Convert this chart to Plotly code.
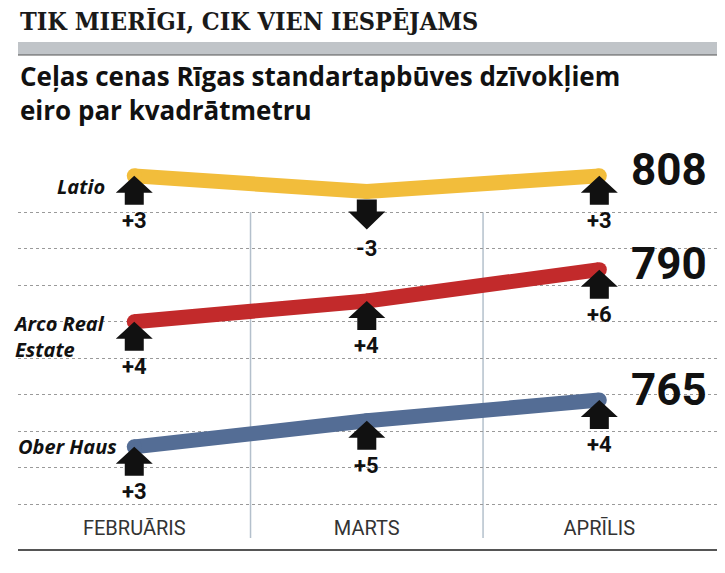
import plotly.graph_objects as go

# values (EUR per m2)
MONTHS = ["FEBRUĀRIS", "MARTS", "APRĪLIS"]
LATIO = [808, 805, 808]
ARCO = [780, 784, 790]
OBER_HAUS = [756, 761, 765]
LATIO_CHANGE = [3, -3, 3]
ARCO_CHANGE = [4, 4, 6]
OBER_HAUS_CHANGE = [3, 5, 4]
GRID_VALUES = [745, 752, 759, 766, 773, 780, 787, 794, 801]

TITLE = "TIK MIERĪGI, CIK VIEN IESPĒJAMS"
SUBTITLE = "Ceļas cenas Rīgas standartapbūves dzīvokļiem<br>eiro par kvadrātmetru"

# plot area in figure pixels (page adds an 8px body margin)
TOP, BOTTOM = 122, 541


def paper_y(px):
    return (BOTTOM - px) / (BOTTOM - TOP)


series = [
    dict(label="Latio", values=LATIO, change=LATIO_CHANGE,
         color="#f2bd3b", lx=-27, ly=-11, vy=6),
    dict(label="Arco Real<br>Estate", values=ARCO, change=ARCO_CHANGE,
         color="#c22a2b", lx=-27, ly=-15, vy=6),
    dict(label="Ober Haus", values=OBER_HAUS, change=OBER_HAUS_CHANGE,
         color="#546d95", lx=-15, ly=0, vy=10),
]

# block arrows in pixels relative to the point (y up)
UP_ARROW = "M0,0 L18.5,-17 L9.5,-17 L9.5,-29 L-9.5,-29 L-9.5,-17 L-18.5,-17 Z"
DOWN_ARROW = "M-10,-8 L10,-8 L10,-20 L18.5,-20 L0,-38 L-18.5,-20 L-10,-20 Z"

NUM_FONT = "Roboto"
NAME_FONT = "Open Sans"

fig = go.Figure()
shapes = []
annotations = []

for s in series:
    fig.add_trace(go.Scatter(
        x=MONTHS, y=s["values"], mode="lines+markers",
        line=dict(color=s["color"], width=15),
        marker=dict(color=s["color"], size=15),
        hoverinfo="skip", showlegend=False,
    ))
    for i, (v, c) in enumerate(zip(s["values"], s["change"])):
        shapes.append(dict(
            type="path", xref="x", yref="y",
            xsizemode="pixel", ysizemode="pixel", xanchor=i, yanchor=v,
            path=UP_ARROW if c > 0 else DOWN_ARROW,
            fillcolor="#111111", line=dict(width=0), layer="above",
        ))
        annotations.append(dict(
            x=i, y=v, text=f"{c:+d}", showarrow=False,
            yshift=-45 if c > 0 else -57,
            font=dict(family=NUM_FONT, size=22, color="#111111", weight="bold"),
        ))
    # final value
    annotations.append(dict(
        x=len(MONTHS) - 1, y=s["values"][-1], text=str(s["values"][-1]),
        showarrow=False, xanchor="left", xshift=30, yshift=s["vy"],
        font=dict(family=NUM_FONT, size=44, color="#111111", weight="bold"),
    ))
    # series name
    annotations.append(dict(
        x=0, y=s["values"][0], text=f"<i>{s['label']}</i>", showarrow=False,
        xanchor="right", align="left", xshift=s["lx"], yshift=s["ly"],
        font=dict(family=NAME_FONT, size=20, color="#111111", weight="bold"),
    ))

# month separators
for xv in [0.5, 1.5]:
    shapes.append(dict(
        type="line", xref="x", yref="y", x0=xv, x1=xv,
        y0=738.5, y1=max(GRID_VALUES),
        line=dict(color="#b4c0cc", width=1.5), layer="below",
    ))

# header bar
shapes.append(dict(
    type="rect", xref="paper", yref="paper", x0=0, x1=1.03,
    y0=paper_y(47), y1=paper_y(34),
    fillcolor="#c0c4c8", line=dict(width=0),
))
shapes.append(dict(
    type="line", xref="paper", yref="paper", x0=0, x1=1.03,
    y0=paper_y(47), y1=paper_y(47), line=dict(color="#555555", width=1),
))

annotations.append(dict(
    xref="paper", yref="paper", x=0, y=paper_y(14), text=TITLE,
    showarrow=False, xanchor="left", yanchor="middle",
    font=dict(family="DejaVu Serif Condensed", size=25, color="#1a1a1a",
              weight="bold"),
))
annotations.append(dict(
    xref="paper", yref="paper", x=0, y=paper_y(85),
    text=f"<b>{SUBTITLE}</b>", showarrow=False,
    xanchor="left", yanchor="middle", align="left",
    font=dict(family="Open Sans", size=26, color="#111111"),
))

fig.update_layout(
    width=725, height=573,
    margin=dict(l=10, r=13, t=TOP, b=573 - BOTTOM),
    paper_bgcolor="white", plot_bgcolor="white",
    shapes=shapes, annotations=annotations,
    xaxis=dict(
        type="category", range=[-0.5, 2.519], showgrid=False,
        showline=True, linecolor="#555555", linewidth=2,
        ticks="", ticklabelposition="inside", ticklabelstandoff=11,
        tickfont=dict(family="Roboto", size=20, color="#333333"),
        zeroline=False, fixedrange=True,
    ),
    yaxis=dict(
        range=[736.4, 816.8], tickvals=GRID_VALUES, showticklabels=False,
        showgrid=True, gridcolor="#9a9a9a", griddash="dot", gridwidth=1,
        zeroline=False, fixedrange=True,
    ),
)

fig.write_html("out.html")
